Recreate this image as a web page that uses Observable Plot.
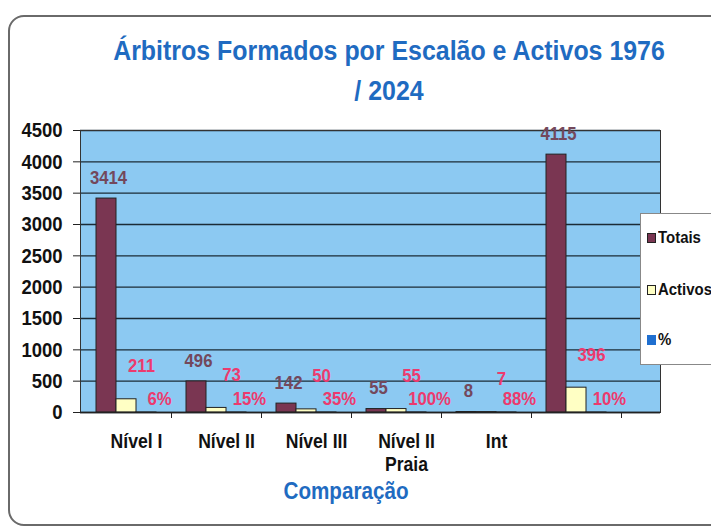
<!DOCTYPE html>
<html>
<head>
<meta charset="utf-8">
<script src="https://cdn.jsdelivr.net/npm/d3@7"></script>
<script src="https://cdn.jsdelivr.net/npm/@observablehq/plot@0.6"></script>
<style>
  html, body { margin: 0; padding: 0; background: #fff; width: 711px; height: 531px; overflow: hidden; }
  #wrap { position: relative; width: 711px; height: 531px; overflow: hidden;
    font-family: "Liberation Sans", Arial, sans-serif; font-weight: bold; }
  #border { position: absolute; left: 8px; top: 15px; width: 760px; height: 511px;
    border: 2px solid #6a6a6a; border-radius: 16px; box-sizing: border-box; }
  #title { position: absolute; left: 39px; width: 700px; top: 31px; text-align: center;
    color: #1f6bc1; font-size: 28px; line-height: 40px; transform: scaleX(0.89); transform-origin: 350px 0; }
  #xlabel { position: absolute; left: 196px; width: 300px; top: 477px; text-align: center;
    color: #1f6bc1; font-size: 24px; transform: scaleX(0.86); transform-origin: 150px 0; }
  #chart { position: absolute; left: 0; top: 0; }
  #legend { position: absolute; left: 640px; top: 213px; width: 110px; height: 152px;
    background: #fff; border: 1px solid #888; box-sizing: border-box; font-size: 17px; color: #111; }
  .item { position: absolute; left: 6px; display: flex; align-items: center; }
  .sw { width: 7px; height: 8px; margin-right: 2px; border: 1px solid #222; flex: none; }
  .lt { display: inline-block; transform: scaleX(0.88); transform-origin: 0 50%; }
</style>
</head>
<body>
<div id="wrap">
  <div id="border"></div>
  <div id="chart"></div>
  <div id="title">Árbitros Formados por Escalão e Activos 1976<br>/ 2024</div>
  <div id="xlabel">Comparação</div>
  <div id="legend"></div>
</div>
<script>
const categories = ["Nível I", "Nível II", "Nível III", "Nível II Praia", "Int", ""];
const totais = [3414, 496, 142, 55, 8, 4115];
const activos = [211, 73, 50, 55, 7, 396];
const percent = [0.06, 0.15, 0.35, 1.00, 0.88, 0.10];
const seriesNames = ["Totais", "Activos", "%"];
const seriesColors = ["#7a3652", "#ffffc4", "#1f6fd0"];
const yTicks = [0, 500, 1000, 1500, 2000, 2500, 3000, 3500, 4000, 4500];

const rows = categories.map((c, i) => ({cat: c, totais: totais[i], activos: activos[i], pct: percent[i]}));

const font = '"Liberation Sans", Arial, sans-serif';

const chart = Plot.plot({
  width: 711,
  height: 531,
  marginLeft: 80,
  marginRight: 51,
  marginTop: 130,
  marginBottom: 119,
  style: {fontFamily: font, fontWeight: "bold", background: "transparent"},
  x: {domain: categories, range: [80, 622], padding: 0, label: null},
  y: {domain: [0, 4500], label: null},
  marks: [
    Plot.frame({fill: "#8cc9f2", stroke: null}),
    Plot.gridY(yTicks, {stroke: "#1b2b36", strokeOpacity: 1, strokeWidth: 1.3}),
    Plot.frame({stroke: "#333", strokeWidth: 1}),
    Plot.barY(rows, {x: "cat", y: "totais", fill: seriesColors[0], stroke: "#222", strokeWidth: 1, insetLeft: 35, insetRight: 35, dx: -20}),
    Plot.barY(rows, {x: "cat", y: "activos", fill: seriesColors[1], stroke: "#222", strokeWidth: 1, insetLeft: 35, insetRight: 35}),
    Plot.barY(rows, {x: "cat", y: "pct", fill: seriesColors[2], stroke: "#222", strokeWidth: 1, insetLeft: 35, insetRight: 35, dx: 20}),
    Plot.ruleY([0], {stroke: "#222", strokeWidth: 1.3}),
    Plot.axisY({ticks: yTicks, tickFormat: d3.format("d"), tickSize: 7, tickPadding: 11, fontSize: 21, fill: "#111", stroke: "#222", label: null}),
    Plot.axisX({tickSize: 6, dx: 45, tickFormat: () => "", stroke: "#222", label: null}),
    Plot.axisX({tickSize: 0, tickPadding: 20, dx: 10, fontSize: 20, fill: "#111", lineHeight: 1.12,
      tickFormat: d => d.replace(/ (Praia)$/, "\n$1"), label: null}),
    Plot.text(rows, {x: "cat", y: "totais", text: d => String(d.totais), dx: -18, dy: -21, fill: "#73485c", fontSize: 19, fontWeight: "bold"}),
    Plot.text(rows, {x: "cat", y: "activos", text: d => String(d.activos), dx: 15, dy: -33, fill: "#ec3a6e", fontSize: 19, fontWeight: "bold"}),
    Plot.text(rows, {x: "cat", y: "pct", text: d => Math.round(d.pct * 100) + "%", dx: 33, dy: -14, fill: "#ec3a6e", fontSize: 19, fontWeight: "bold"})
  ]
});
// condense text horizontally to mimic a narrow typeface
d3.select(chart).selectAll("text").each(function() {
  const t = this.getAttribute("transform") || "";
  this.setAttribute("transform", t + " scale(0.88,1)");
});
document.getElementById("chart").appendChild(chart);

const legend = document.getElementById("legend");
const tops = [14, 66, 116];
seriesNames.forEach((n, i) => {
  const it = document.createElement("div");
  it.className = "item";
  it.style.top = tops[i] + "px";
  const sw = document.createElement("span");
  sw.className = "sw";
  sw.style.background = seriesColors[i];
  if (i === 2) sw.style.borderColor = seriesColors[i];
  it.appendChild(sw);
  const t = document.createElement("span");
  t.className = "lt";
  t.textContent = n;
  it.appendChild(t);
  legend.appendChild(it);
});
</script>
</body>
</html>
